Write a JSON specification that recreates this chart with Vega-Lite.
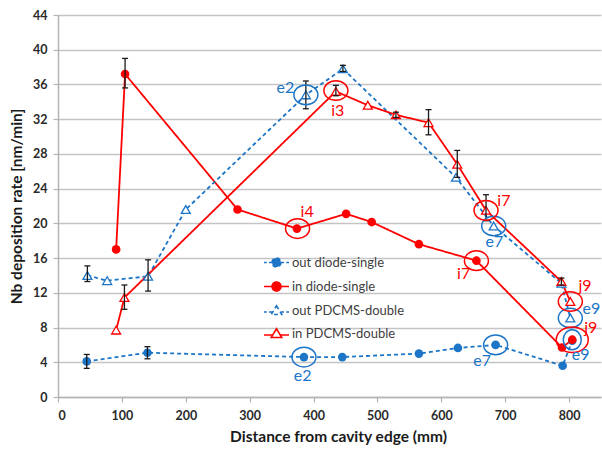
{
  "$schema": "https://vega.github.io/schema/vega-lite/v6.json",
  "width": 543,
  "height": 382,
  "autosize": {"type": "none"},
  "padding": {"left": 58, "top": 15, "right": 1, "bottom": 52},
  "background": "white",
  "config": {
    "view": {"stroke": null},
    "font": "Lato",
    "axis": {"domainColor": "#b4b4b4", "domainWidth": 1.5, "tickColor": "#b4b4b4", "tickWidth": 1.2, "labelFont": "Lato", "labelFontWeight": "bold", "labelColor": "#2a2a2a", "titleFont": "Lato", "titleFontWeight": "bold", "titleColor": "#1a1a1a", "labelOverlap": false}
  },
  "datasets": {
    "pts": [
      {"series": "out diode-single", "x": 45, "y": 4.1, "lo": 3.3, "hi": 4.9},
      {"series": "out diode-single", "x": 140, "y": 5.1, "lo": 4.4, "hi": 5.8},
      {"series": "out diode-single", "x": 385, "y": 4.6},
      {"series": "out diode-single", "x": 445, "y": 4.6},
      {"series": "out diode-single", "x": 565, "y": 5.0},
      {"series": "out diode-single", "x": 626, "y": 5.65},
      {"series": "out diode-single", "x": 685, "y": 6.0},
      {"series": "out diode-single", "x": 790, "y": 3.6},
      {"series": "out diode-single", "x": 805, "y": 6.5},
      {"series": "in diode-single", "x": 91, "y": 17.0},
      {"series": "in diode-single", "x": 105, "y": 37.2, "lo": 35.6, "hi": 39.0},
      {"series": "in diode-single", "x": 281, "y": 21.6},
      {"series": "in diode-single", "x": 374, "y": 19.4},
      {"series": "in diode-single", "x": 451, "y": 21.1},
      {"series": "in diode-single", "x": 491, "y": 20.15},
      {"series": "in diode-single", "x": 565, "y": 17.6},
      {"series": "in diode-single", "x": 655, "y": 15.7},
      {"series": "in diode-single", "x": 789, "y": 5.7},
      {"series": "in diode-single", "x": 805, "y": 6.6},
      {"series": "out PDCMS-double", "x": 46, "y": 14.0, "lo": 13.3, "hi": 15.1},
      {"series": "out PDCMS-double", "x": 77, "y": 13.4},
      {"series": "out PDCMS-double", "x": 141, "y": 13.9, "lo": 12.2, "hi": 15.8},
      {"series": "out PDCMS-double", "x": 200, "y": 21.6},
      {"series": "out PDCMS-double", "x": 388, "y": 34.8, "lo": 33.2, "hi": 36.4},
      {"series": "out PDCMS-double", "x": 446, "y": 37.8, "lo": 37.5, "hi": 38.2},
      {"series": "out PDCMS-double", "x": 623, "y": 25.3},
      {"series": "out PDCMS-double", "x": 682, "y": 19.7},
      {"series": "out PDCMS-double", "x": 788, "y": 13.1},
      {"series": "out PDCMS-double", "x": 802, "y": 9.1},
      {"series": "in PDCMS-double", "x": 91, "y": 7.7},
      {"series": "in PDCMS-double", "x": 104, "y": 11.45, "lo": 10.1, "hi": 12.9},
      {"series": "in PDCMS-double", "x": 435, "y": 35.2, "lo": 34.7, "hi": 35.9},
      {"series": "in PDCMS-double", "x": 485, "y": 33.6},
      {"series": "in PDCMS-double", "x": 529, "y": 32.5, "lo": 32.2, "hi": 32.8},
      {"series": "in PDCMS-double", "x": 580, "y": 31.6, "lo": 30.2, "hi": 33.1},
      {"series": "in PDCMS-double", "x": 625, "y": 26.8, "lo": 25.3, "hi": 28.4},
      {"series": "in PDCMS-double", "x": 670, "y": 21.5, "lo": 20.3, "hi": 23.3},
      {"series": "in PDCMS-double", "x": 788, "y": 13.3, "lo": 12.9, "hi": 13.7},
      {"series": "in PDCMS-double", "x": 802, "y": 11.0}
    ],
    "rings": [
      {"group": "e", "x": 388, "y": 34.8},
      {"group": "e", "x": 682, "y": 19.7},
      {"group": "e", "x": 685, "y": 6.0},
      {"group": "e", "x": 802, "y": 9.1},
      {"group": "e", "x": 385, "y": 4.6},
      {"group": "i", "x": 435, "y": 35.3},
      {"group": "i", "x": 375, "y": 19.4},
      {"group": "i", "x": 670, "y": 21.5},
      {"group": "i", "x": 655, "y": 15.7},
      {"group": "i", "x": 802, "y": 11.0}
    ],
    "labels": [
      {"group": "e", "text": "e2", "x": 356, "y": 35.6},
      {"group": "e", "text": "e2", "x": 383, "y": 2.4},
      {"group": "e", "text": "e7", "x": 683, "y": 17.9},
      {"group": "e", "text": "e7", "x": 664, "y": 4.2},
      {"group": "e", "text": "e9", "x": 835, "y": 10.1},
      {"group": "e", "text": "e9", "x": 818, "y": 4.8},
      {"group": "i", "text": "i3", "x": 438, "y": 33.0},
      {"group": "i", "text": "i4", "x": 390, "y": 21.3},
      {"group": "i", "text": "i7", "x": 698, "y": 22.6},
      {"group": "i", "text": "i7", "x": 635, "y": 14.2},
      {"group": "i", "text": "j9", "x": 825, "y": 12.8},
      {"group": "i", "text": "j9", "x": 834, "y": 8.0}
    ]
  },
  "layer": [
    {
      "data": {"name": "pts"},
      "mark": {"type": "line", "strokeWidth": 1.8},
      "encoding": {
        "x": {"field": "x", "type": "quantitative", "scale": {"domain": [0, 850], "nice": false}, "axis": {"values": [0, 100, 200, 300, 400, 500, 600, 700, 800], "tickCount": 20, "grid": false, "tickSize": 5, "labelFontSize": 12.5, "labelPadding": 7, "title": "Distance from cavity edge (mm)", "titleFontSize": 15.5, "titlePadding": 8, "titleX": 280}},
        "y": {"field": "y", "type": "quantitative", "scale": {"domain": [0, 44], "nice": false}, "axis": {"values": [0, 4, 8, 12, 16, 20, 24, 28, 32, 36, 40, 44], "tickCount": 20, "grid": true, "gridColor": "#c4c4c4", "gridWidth": 1.5, "tickSize": 5, "labelFontSize": 12.5, "labelPadding": 6, "title": "Nb deposition rate [nm/min]", "titleFontSize": 15.5, "titlePadding": 8}},
        "color": {
          "field": "series", "type": "nominal",
          "scale": {"domain": ["out diode-single", "in diode-single", "out PDCMS-double", "in PDCMS-double"], "range": ["#1c75c6", "#ff0000", "#1c75c6", "#ff0000"]},
          "legend": {
            "title": null, "orient": "none", "legendX": 205, "legendY": 234, "padding": 0,
            "symbolSize": 625, "symbolStrokeWidth": 1.6, "rowPadding": 2,
            "labelFont": "Lato", "labelFontSize": 13, "labelColor": "#404040", "labelOffset": 2,
            "symbolType": "circle",
            "encode": {
              "symbols": {
                "update": {
                  "shape": {"signal": "datum.value == 'out diode-single' ? 'M-1,0L-0.78,0M-0.6,0L-0.36,0M0.36,0L0.6,0M0.78,0L1,0M-0.36,0A0.36,0.36,0,1,1,0.36,0A0.36,0.36,0,1,1,-0.36,0Z' : datum.value == 'in diode-single' ? 'M-1,0L-0.36,0M0.36,0L1,0M-0.36,0A0.36,0.36,0,1,1,0.36,0A0.36,0.36,0,1,1,-0.36,0Z' : datum.value == 'out PDCMS-double' ? 'M-1,0.12L-0.78,0.12M-0.6,0.12L-0.33,0.12M0.33,0.12L0.6,0.12M0.78,0.12L1,0.12M0,-0.38L0.42,0.32L-0.42,0.32Z' : 'M-1,0.12L-0.33,0.12M0.33,0.12L1,0.12M0,-0.38L0.42,0.32L-0.42,0.32Z'"},
                  "fill": {"signal": "datum.value == 'out diode-single' ? '#1c75c6' : datum.value == 'in diode-single' ? '#ff0000' : '#ffffff'"},
                  "fillOpacity": {"value": 1},
                  "strokeDash": {"value": []}
                }
              }
            }
          }
        },
        "strokeDash": {"field": "series", "type": "nominal", "scale": {"domain": ["out diode-single", "in diode-single", "out PDCMS-double", "in PDCMS-double"], "range": [[4, 3], [1, 0], [4, 3], [1, 0]]}, "legend": null}
      }
    },
    {
      "data": {"name": "pts"},
      "transform": [{"filter": "indexof(datum.series, 'diode') >= 0"}],
      "mark": {"type": "point", "shape": "circle", "filled": true, "opacity": 1, "size": 75},
      "encoding": {
        "x": {"field": "x", "type": "quantitative"},
        "y": {"field": "y", "type": "quantitative"},
        "fill": {"condition": {"test": "indexof(datum.series, 'out') == 0", "value": "#1c75c6"}, "value": "#ff0000"}
      }
    },
    {
      "data": {"name": "pts"},
      "transform": [{"filter": "indexof(datum.series, 'PDCMS') >= 0"}],
      "mark": {"type": "point", "shape": "triangle-up", "filled": false, "fill": "white", "fillOpacity": 1, "opacity": 1, "strokeWidth": 1.3, "size": 80},
      "encoding": {
        "x": {"field": "x", "type": "quantitative"},
        "y": {"field": "y", "type": "quantitative"},
        "stroke": {"condition": {"test": "indexof(datum.series, 'out') == 0", "value": "#1c75c6"}, "value": "#ff0000"}
      }
    },
    {
      "data": {"name": "pts"},
      "transform": [{"filter": "isValid(datum.lo)"}],
      "mark": {"type": "rule", "color": "#1a1a1a", "strokeWidth": 1.3},
      "encoding": {
        "x": {"field": "x", "type": "quantitative"},
        "y": {"field": "lo", "type": "quantitative"},
        "y2": {"field": "hi"}
      }
    },
    {
      "data": {"name": "pts"},
      "transform": [{"filter": "isValid(datum.lo)"}],
      "mark": {"type": "tick", "orient": "horizontal", "color": "#1a1a1a", "size": 6, "thickness": 1.3, "opacity": 1},
      "encoding": {
        "x": {"field": "x", "type": "quantitative"},
        "y": {"field": "lo", "type": "quantitative"}
      }
    },
    {
      "data": {"name": "pts"},
      "transform": [{"filter": "isValid(datum.hi)"}],
      "mark": {"type": "tick", "orient": "horizontal", "color": "#1a1a1a", "size": 6, "thickness": 1.3, "opacity": 1},
      "encoding": {
        "x": {"field": "x", "type": "quantitative"},
        "y": {"field": "hi", "type": "quantitative"}
      }
    },
    {
      "data": {"name": "rings"},
      "mark": {"type": "point", "shape": "M-1,0A1,0.82,0,1,1,1,0A1,0.82,0,1,1,-1,0Z", "filled": false, "opacity": 1, "size": 576, "strokeWidth": 1.5},
      "encoding": {
        "x": {"field": "x", "type": "quantitative"},
        "y": {"field": "y", "type": "quantitative"},
        "stroke": {"condition": {"test": "datum.group == 'e'", "value": "#1c75c6"}, "value": "#ff0000"}
      }
    },
    {
      "data": {"values": [{"group": "i", "x": 805, "y": 6.6}]},
      "mark": {"type": "point", "shape": "M-1,0A1,0.8,0,1,1,1,0A1,0.8,0,1,1,-1,0Z", "filled": false, "opacity": 1, "size": 1024, "strokeWidth": 1.5},
      "encoding": {
        "x": {"field": "x", "type": "quantitative"},
        "y": {"field": "y", "type": "quantitative"},
        "stroke": {"condition": {"test": "datum.group == 'e'", "value": "#1c75c6"}, "value": "#ff0000"}
      }
    },
    {
      "data": {"values": [{"group": "e", "x": 805, "y": 6.6}]},
      "mark": {"type": "point", "shape": "M-0.9,0A0.9,1,0,1,1,0.9,0A0.9,1,0,1,1,-0.9,0Z", "filled": false, "opacity": 1, "size": 400, "strokeWidth": 1.5},
      "encoding": {
        "x": {"field": "x", "type": "quantitative"},
        "y": {"field": "y", "type": "quantitative"},
        "stroke": {"condition": {"test": "datum.group == 'e'", "value": "#1c75c6"}, "value": "#ff0000"}
      }
    },
    {
      "data": {"name": "labels"},
      "mark": {"type": "text", "font": "Lato", "fontSize": 16, "align": "center", "baseline": "middle"},
      "encoding": {
        "x": {"field": "x", "type": "quantitative"},
        "y": {"field": "y", "type": "quantitative"},
        "text": {"field": "text"},
        "fill": {"condition": {"test": "datum.group == 'e'", "value": "#1c75c6"}, "value": "#ff0000"}
      }
    }
  ]
}
